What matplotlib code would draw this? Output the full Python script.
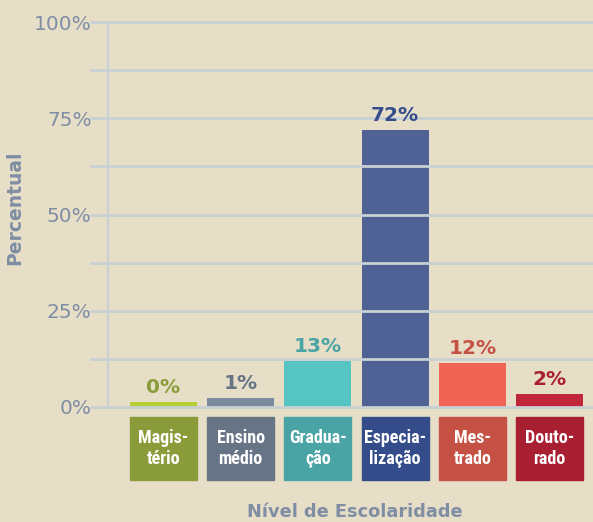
import numpy as np
import matplotlib.pyplot as plt
from matplotlib.patches import Rectangle
from matplotlib import font_manager

categories = ["Magis-\ntério", "Ensino\nmédio", "Gradua-\nção", "Especia-\nlização", "Mes-\ntrado", "Douto-\nrado"]
heights = [1.2, 2.3, 12.0, 72.0, 11.5, 3.3]
labels = ["0%", "1%", "13%", "72%", "12%", "2%"]
bar_colors = ["#b5cf34", "#7b8a9d", "#55c4c2", "#506295", "#f06455", "#c1253a"]
box_colors = ["#8a9c3a", "#667486", "#4aa3a4", "#344c8a", "#c55145", "#a91f32"]
yticks = [0, 25, 50, 75, 100]

bg = "#e7dec8"
grid_c = "#c8d0d4"
axis_txt = "#7f8ea3"

names = {f.name for f in font_manager.fontManager.ttflist}
narrow = "Roboto"
for cand in ["Roboto Condensed", "Liberation Sans Narrow", "DejaVu Sans Condensed"]:
    if cand in names:
        narrow = cand
        break

fig = plt.figure(figsize=(5.93, 5.22), dpi=100, facecolor=bg)
ax = fig.add_axes([107 / 593, 1 - 407 / 522, 486 / 593, 385 / 522])
ax.set_facecolor(bg)

x = np.arange(len(categories))
ax.bar(x, heights, width=0.868, color=bar_colors, zorder=1)
ax.set_xlim(-0.732, 5.563)
ax.set_ylim(0, 100)

# gridlines every 12.5, drawn over the bars and sticking out to the left
for g in np.arange(0, 100.1, 12.5):
    ax.axhline(g, xmin=-0.033, xmax=1, color=grid_c, lw=2, zorder=3, clip_on=False)
ax.axvline(-0.732, color=grid_c, lw=2.5, zorder=3)

for s in ax.spines.values():
    s.set_visible(False)
ax.set_xticks([])
ax.set_yticks(yticks)
ax.set_yticklabels([f"{t}%" for t in yticks], fontsize=14.5, color=axis_txt)
ax.tick_params(axis="y", length=0, pad=11)

for xi, h, lab, c in zip(x, heights, labels, box_colors):
    ax.text(xi, h + 1.3, lab, ha="center", va="bottom", fontsize=14.5,
            fontweight="bold", color=c)

trans = ax.get_xaxis_transform()
for xi, cat, c in zip(x, categories, box_colors):
    ax.add_patch(Rectangle((xi - 0.434, -0.19), 0.868, 0.164, transform=trans,
                           color=c, clip_on=False, zorder=2))
    ax.text(xi, -0.107, cat, transform=trans, ha="center", va="center",
            fontsize=13, fontweight="bold", family=narrow,
            color="white", linespacing=1.2)

fig.text(15 / 593, 1 - 208 / 522, "Percentual", rotation=90, ha="center", va="center",
         fontsize=13.5, fontweight="bold", color=axis_txt)
fig.text(355 / 593, 1 - 512 / 522, "Nível de Escolaridade", ha="center", va="center",
         fontsize=12.8, fontweight="bold", color=axis_txt)

fig.savefig("out.png", dpi=100, facecolor=bg)
